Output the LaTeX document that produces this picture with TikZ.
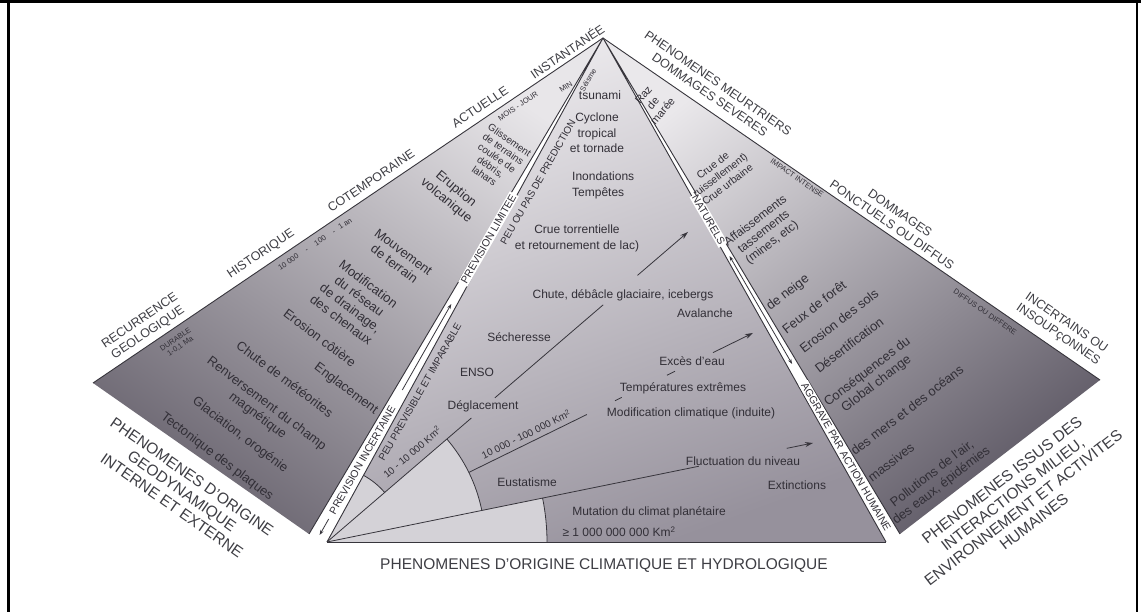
\documentclass[tikz,border=0pt]{standalone}
\usepackage{fontspec}
\setmainfont{Liberation Sans}
\usetikzlibrary{arrows.meta,calc}
\definecolor{ink}{RGB}{50,47,55}
\definecolor{outink}{RGB}{62,62,68}
\definecolor{edgec}{RGB}{55,53,60}
\definecolor{lfA}{RGB}{232,230,233}
\definecolor{lfB}{RGB}{196,193,200}
\definecolor{lfC}{RGB}{108,103,114}
\definecolor{cfA}{RGB}{238,236,239}
\definecolor{cfB}{RGB}{216,213,218}
\definecolor{cfC}{RGB}{150,145,156}
\definecolor{rfA}{RGB}{234,232,235}
\definecolor{rfB}{RGB}{190,187,194}
\definecolor{rfC}{RGB}{96,91,103}
\definecolor{sectc}{RGB}{212,210,215}
\newcommand{\myfs}[2]{\fontsize{#1}{#2}\selectfont}
\begin{document}
\begin{tikzpicture}[x=1pt,y=1pt,
  txt/.style={text=ink, inner sep=0pt, align=center, font=\myfs{12}{14}},
  ftxt/.style={text=ink, inner sep=0pt, align=center, font=\myfs{13}{15}},
  gls/.style={text=ink, inner sep=0pt, align=center, font=\myfs{10}{11}},
  crue/.style={text=ink, inner sep=0pt, align=center, font=\myfs{10.5}{12}},
  sml/.style={text=ink, inner sep=0pt, align=center, font=\myfs{7.5}{8.5}},
  outer/.style={text=outink, inner sep=0pt, align=center, font=\myfs{12.5}{14.5}},
  big/.style={text=outink, inner sep=0pt, align=center, font=\myfs{15.5}{17.5}},
  band/.style={text=ink, fill=white, inner sep=1.5pt, font=\myfs{10.5}{12}},
  side/.style={text=ink, inner sep=0pt, font=\myfs{10}{12}},
  edgeline/.style={draw=edgec, line width=0.9pt},
  thinline/.style={draw=edgec, line width=0.8pt},
  arr/.style={thinline, -{Stealth[length=8pt,width=5pt]}},
  sarr/.style={thinline, -{Stealth[length=5pt,width=3.5pt]}},
]
\useasboundingbox (0,0) rectangle (1141,612);
\fill[white] (0,0) rectangle (1141,612);
\draw[line width=3pt] (0,610.5) -- (1141,610.5);
\draw[line width=2.5pt] (8.5,0) -- (8.5,612);
\draw[line width=2.5pt] (1137,0) -- (1137,612);

% key points
\coordinate (A) at (603,574);
\coordinate (L) at (93,229);
\coordinate (LB) at (309,78);
\coordinate (V) at (327,70);
\coordinate (CB) at (886,70);
\coordinate (RB) at (900,78);
\coordinate (R) at (1100,232);
\coordinate (T1) at (688,380);
\coordinate (T2) at (753,279);
\coordinate (T3) at (813,169);

% faces
\shade[top color=lfA, middle color=lfB, bottom color=lfC, shading angle=-35] (A) -- (L) -- (LB) -- cycle;
\shade[top color=cfA, middle color=cfB, bottom color=cfC, shading angle=20] (A) -- (V) -- (CB) -- cycle;
\shade[top color=rfA, middle color=rfB, bottom color=rfC, shading angle=38] (A) -- (RB) -- (R) -- cycle;

% light sectors
\fill[sectc] (V) -- ($(V)+(0:220)$) arc[start angle=0,end angle=11.5,radius=220] -- cycle;
\fill[sectc] (V) -- ($(V)+(11.5:158)$) arc[start angle=11.5,end angle=40.65,radius=158] -- cycle;
\fill[sectc] (V) -- ($(V)+(40.65:76)$) arc[start angle=40.65,end angle=61.3,radius=76] -- cycle;
\draw[thinline] ($(V)+(0:220)$) arc[start angle=0,end angle=11.5,radius=220];
\draw[thinline] ($(V)+(11.5:158)$) arc[start angle=11.5,end angle=40.65,radius=158];
\draw[thinline] ($(V)+(40.65:76)$) arc[start angle=40.65,end angle=61.3,radius=76];

% edges
\draw[edgeline] (L) -- (A) -- (R);
\draw[edgeline] (LB) -- (A) -- (V);
\draw[edgeline] (CB) -- (A) -- (RB);
\draw[edgeline] (V) -- (CB);

% radial lines
\draw[thinline] (V) -- ($(V)!0.40!(T1)$);
\draw[thinline] ($(V)!0.465!(T1)$) -- ($(V)!0.765!(T1)$);
\draw[arr] ($(V)!0.86!(T1)$) -- (T1);
\draw[thinline] ($(V)!0.333!(T2)$) -- ($(V)!0.61!(T2)$);
\draw[thinline] ($(V)!0.676!(T2)$) -- ($(V)!0.692!(T2)$);
\draw[thinline] ($(V)!0.798!(T2)$) -- ($(V)!0.817!(T2)$);
\draw[arr] ($(V)!0.906!(T2)$) -- (T2);
\draw[thinline] (V) -- ($(V)!0.765!(T3)$);
\draw[arr] ($(V)!0.946!(T3)$) -- (T3);

% strip arrows
\coordinate (la1) at (402.3,222);
\coordinate (la2) at (451.3,308);
\coordinate (lb1) at (328.7,93);
\coordinate (lb2) at (319.6,77);
\coordinate (ra1) at (729.5,356);
\coordinate (ra2) at (792.1,248);
\draw[sarr] (la1) -- (la2);
\draw[sarr] (lb1) -- (lb2);
\draw[sarr, {Stealth[length=5pt,width=3.5pt]}-{Stealth[length=5pt,width=3.5pt]}] (ra1) -- (ra2);

% strip texts
\node[band, rotate=60.3] (pi) at (362.4,152) {PREVISION INCERTAINE};
\node[band, rotate=60.3] (pl) at (488.5,373) {PREVISION LIMITEE};
\node[side, rotate=60.3] (pp) at (420,220) {PEU PREVISIBLE ET IMPARABLE};
\node[side, rotate=60.3] (pd) at (538,430) {PEU OU PAS DE PREDICTION};
\node[band, rotate=-60] (nat) at (708.6,392) {NATURELS};
\node[band, rotate=-60] (agg) at (846.1,155) {AGGRAVE PAR ACTION HUMAINE};
\node[side, rotate=40.6] (k1) at (412,160) {10 - 10 000 Km\textsuperscript{2}};
\node[side, rotate=26] (k2) at (526,178) {10 000 - 100 000 Km\textsuperscript{2}};

% center face texts
\node[txt] (tsu) at (600,517) {tsunami};
\node[txt, font=\myfs{12}{15.5}] (cyc) at (597,479) {Cyclone\\tropical\\et tornade};
\node[txt, anchor=west, align=left, font=\myfs{12}{16}] (ino) at (572,427) {Inondations\\Tempêtes};
\node[txt, font=\myfs{12}{16}] (crt) at (577,373.5) {Crue torrentielle\\et retournement de lac)};
\node[txt] (chu) at (623,317) {Chute, débâcle glaciaire, icebergs};
\node[txt] (ava) at (705,299) {Avalanche};
\node[txt] (sec) at (519,275) {Sécheresse};
\node[txt] (enso) at (477,240) {ENSO};
\node[txt] (exc) at (692,251) {Excès d'eau};
\node[txt] (tem) at (683,224) {Températures extrêmes};
\node[txt] (deg) at (483,206) {Déglacement};
\node[txt] (mod) at (691,199) {Modification climatique (induite)};
\node[txt] (eus) at (527,130) {Eustatisme};
\node[txt] (flu) at (743,151) {Fluctuation du niveau};
\node[txt] (ext) at (797,127) {Extinctions};
\node[txt] (mut) at (649,100) {Mutation du climat planétaire};
\node[txt] (geq) at (619,80) {≥ 1 000 000 000 Km\textsuperscript{2}};

% left face texts
\node[gls, rotate=-35] (glis) at (497,454) {Glissement\\de terrains\\coulée de\\débris,\\lahars};
\node[ftxt, rotate=-40] (eru) at (451,417) {Eruption\\volcanique};
\node[ftxt, rotate=-37] (mvt) at (399,354) {Mouvement\\de terrain};
\node[ftxt, rotate=-37] (modr) at (355,310) {Modification\\du réseau\\de drainage,\\des chenaux};
\node[ftxt, rotate=-37] (eroc) at (320,274) {Erosion côtière};
\node[ftxt, rotate=-37] (engl) at (346,223) {Englacement};
\node[ftxt, rotate=-37] (met) at (285,233) {Chute de météorites};
\node[ftxt, rotate=-37] (ren) at (262,202) {Renversement du champ\\magnétique};
\node[ftxt, rotate=-37] (gla) at (240,177) {Glaciation, orogénie};
\node[ftxt, rotate=-37] (tec) at (217,155) {Tectonique des plaques};

% top-left outer labels
\node[outer, rotate=34] (inst) at (567,561) {INSTANTANÉE};
\node[outer, rotate=34] (act) at (480,505) {ACTUELLE};
\node[outer, rotate=34] (cot) at (371,431) {COTEMPORAINE};
\node[outer, rotate=34] (his) at (261,358) {HISTORIQUE};
\node[outer, rotate=34] (rec) at (144,285) {RECURRENCE\\GEOLOGIQUE};
\node[sml, rotate=34] (min) at (566,525) {MIN};
\node[sml, rotate=60] (sei) at (588,532) {Séisme};
\node[sml, rotate=34] (moi) at (518,506) {MOIS - JOUR};
\node[sml, rotate=34] (ans) at (315,368) {10 000\hspace{9pt}-\hspace{9pt}100\hspace{9pt}-\hspace{5pt}1 an};
\node[sml, rotate=34] (dur) at (178,269) {DURABLE\\1-0,1 Ma};

% top-right outer labels
\node[outer, rotate=-34.5] (meu) at (714,523) {PHENOMENES MEURTRIERS\\DOMMAGES SEVERES};
\node[sml, rotate=-34.5] (imp) at (797,434) {IMPACT INTENSE};
\node[outer, rotate=-34.5] (pon) at (896,393) {DOMMAGES\\PONCTUELS OU DIFFUS};
\node[sml, rotate=-34.5] (dif) at (985,300) {DIFFUS OU DIFFERE};
\node[outer, rotate=-34.5] (inc) at (1062,283) {INCERTAINS OU\\INSOUPçONNES};

% right face texts
\node[txt, rotate=50, font=\myfs{11}{12.5}] (raz) at (653,509) {Raz\\de\\marée};
\node[crue, rotate=37.6] (cru) at (720,437) {Crue de\\ruissellement)\\Crue urbaine};
\node[ftxt, rotate=37.6, font=\myfs{12}{13.5}] (aff) at (764,380) {Affaissements\\tassements\\(mines, etc)};
\node[ftxt, rotate=37.6] (nei) at (788,319) {de neige};
\node[ftxt, rotate=37.6] (feu) at (814,305) {Feux de forêt};
\node[ftxt, rotate=37.6] (ers) at (839,291) {Erosion des sols};
\node[ftxt, rotate=37.6] (des) at (849,267) {Désertification};
\node[ftxt, rotate=37.6] (con) at (872,234) {Conséquences du\\Global change};
\node[ftxt, rotate=37.6] (mer) at (907,202) {des mers et des océans};
\node[ftxt, rotate=37.6] (mas) at (891,150) {massives};
\node[ftxt, rotate=37.6] (pol) at (937,132) {Pollutions de l'air,\\des eaux, épidémies};

% big labels
\node[big] (cli) at (604,46) {PHENOMENES D'ORIGINE CLIMATIQUE ET HYDROLOGIQUE};
\node[big, rotate=-35] (geo) at (182,121) {PHENOMENES D'ORIGINE\\GEODYNAMIQUE\\INTERNE ET EXTERNE};
\node[big, rotate=37.6] (hum) at (1018,111) {PHENOMENES ISSUS DES\\INTERACTIONS MILIEU,\\ENVIRONNEMENT ET ACTIVITES\\HUMAINES};
\end{tikzpicture}
\end{document}
